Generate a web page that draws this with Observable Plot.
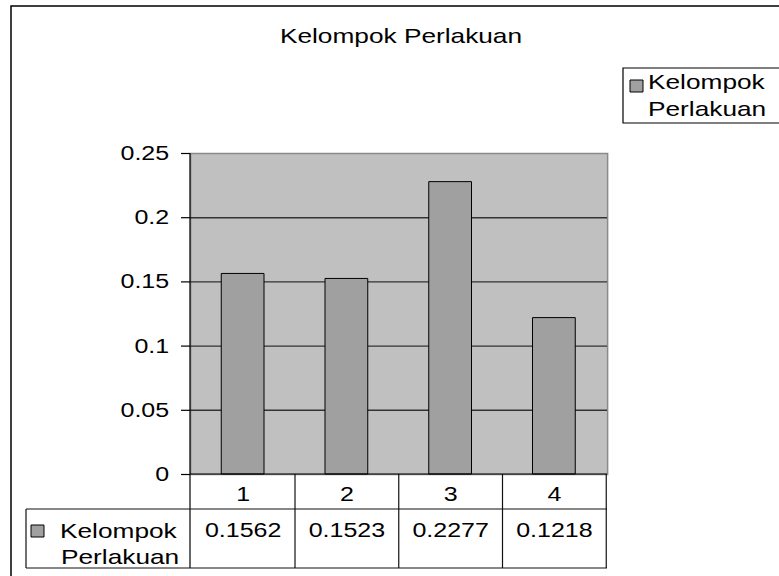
<!DOCTYPE html>
<html>
<head>
<meta charset="utf-8">
<script src="https://cdn.jsdelivr.net/npm/d3@7"></script>
<script src="https://cdn.jsdelivr.net/npm/@observablehq/plot@0.6"></script>
<style>
  html, body { margin: 0; padding: 0; background: #fff; overflow: hidden; }
  svg rect, svg line, svg path { vector-effect: non-scaling-stroke; }
</style>
</head>
<body>
<div id="chart"></div>
<script>
// ---- data ----
const title = "Kelompok Perlakuan";
const seriesLines = ["Kelompok", "Perlakuan"];
const categories = ["1", "2", "3", "4"];
const values = [0.1562, 0.1523, 0.2277, 0.1218];
const yTicks = [0, 0.05, 0.1, 0.15, 0.2, 0.25];
const tickLabels = ["0", "0.05", "0.1", "0.15", "0.2", "0.25"];

const data = categories.map((c, i) => ({cat: c, value: values[i]}));

// ---- layout (reference is horizontally stretched) ----
const FONT = "'Liberation Sans', Arial, Helvetica, sans-serif";
const S = 1.25;
const W = 779, H = 576, W0 = W / S;
const X = v => v / S;
const plotLeft = X(190), plotRight = X(607), plotTop = 153, plotBottom = 474;
const BAR_FILL = "#a0a0a0";

const chart = Plot.plot({
  width: W0,
  height: H,
  marginLeft: plotLeft,
  marginRight: W0 - plotRight,
  marginTop: plotTop,
  marginBottom: H - plotBottom,
  style: {fontFamily: FONT, fontSize: "20px", color: "black", background: "white"},
  x: {domain: categories, padding: 0, axis: null},
  y: {domain: [0, 0.25], axis: null},
  marks: [
    Plot.frame({fill: "#c0c0c0", stroke: "#8a8a8a", strokeWidth: 1.5}),
    Plot.ruleY(yTicks.filter(d => d > 0 && d < 0.25), {stroke: "#333", strokeWidth: 1.4}),
    Plot.barY(data, {x: "cat", y: "value", fill: BAR_FILL, stroke: "black", strokeWidth: 1, insetLeft: 24, insetRight: 24.8}),
    Plot.axisY({ticks: yTicks, tickFormat: d => tickLabels[yTicks.indexOf(d)], tickSize: 7.2, tickPadding: 10, fontSize: 20, strokeWidth: 1.2, label: null})
  ]
});

const svg = d3.select(chart);
const xs = chart.scale("x"), ys = chart.scale("y");
const bw = xs.bandwidth;
const y0 = ys.apply(0);
const row1 = y0 + 35, row2 = row1 + 59;
const tableLeft = X(26);
const g = svg.append("g").attr("fill", "none").attr("stroke", "#111").attr("stroke-width", 1.2);

// y axis line + table verticals
g.append("line").attr("x1", plotLeft).attr("x2", plotLeft).attr("y1", ys.apply(0.25)).attr("y2", row2).attr("stroke", "black");
const edges = categories.map(c => xs.apply(c)).concat([xs.apply(categories[categories.length - 1]) + bw]);
edges.slice(1).forEach(e => g.append("line").attr("x1", e).attr("x2", e).attr("y1", y0).attr("y2", row2));
g.append("line").attr("x1", tableLeft).attr("x2", tableLeft).attr("y1", row1).attr("y2", row2);
// table horizontals
g.append("line").attr("x1", plotLeft).attr("x2", plotRight).attr("y1", y0).attr("y2", y0).attr("stroke", "black");
g.append("line").attr("x1", tableLeft).attr("x2", plotRight).attr("y1", row1).attr("y2", row1);
g.append("line").attr("x1", tableLeft).attr("x2", plotRight).attr("y1", row2).attr("y2", row2);

const t = svg.append("g").attr("fill", "black").attr("font-family", FONT).attr("text-anchor", "start");
categories.forEach((c, i) => {
  const cx = xs.apply(c) + bw / 2;
  t.append("text").attr("x", cx).attr("y", 501).attr("text-anchor", "middle").attr("font-size", 20).text(c);
  t.append("text").attr("x", cx).attr("y", 537).attr("text-anchor", "middle").attr("font-size", 20).text(values[i].toFixed(4));
});
// table legend key
t.append("rect").attr("x", X(31)).attr("y", 525).attr("width", X(13)).attr("height", 12)
  .attr("fill", BAR_FILL).attr("stroke", "black").attr("stroke-width", 1);
t.append("text").attr("x", X(60)).attr("y", 538).attr("font-size", 21).text(seriesLines[0]);
t.append("text").attr("x", X(61)).attr("y", 564).attr("font-size", 21).text(seriesLines[1]);

// title
t.append("text").attr("x", X(401)).attr("y", 43).attr("text-anchor", "middle").attr("font-size", 21).text(title);

// legend (top right)
const lg = svg.append("g").attr("text-anchor", "start").attr("font-family", FONT);
lg.append("path").attr("d", `M${W0 + 5},68 H${X(623)} V123 H${W0 + 5}`).attr("fill", "white").attr("stroke", "black").attr("stroke-width", 1.2);
lg.append("rect").attr("x", X(630)).attr("y", 80).attr("width", X(13)).attr("height", 12)
  .attr("fill", BAR_FILL).attr("stroke", "black").attr("stroke-width", 1);
lg.append("text").attr("x", X(648)).attr("y", 89).attr("font-size", 21).text(seriesLines[0]);
lg.append("text").attr("x", X(648)).attr("y", 116).attr("font-size", 21).text(seriesLines[1]);

// outer chart border
svg.append("path").attr("d", `M${X(11)},${H + 5} V6 H${W0 + 5}`).attr("fill", "none").attr("stroke", "black").attr("stroke-width", 1.5);

// stretch horizontally like the reference
chart.setAttribute("width", W);
chart.setAttribute("height", H);
chart.setAttribute("viewBox", `0 0 ${W0} ${H}`);
chart.setAttribute("preserveAspectRatio", "none");
chart.style.width = W + "px";
chart.style.height = H + "px";
chart.style.maxWidth = "none";
chart.style.display = "block";

document.getElementById("chart").appendChild(chart);
</script>
</body>
</html>
